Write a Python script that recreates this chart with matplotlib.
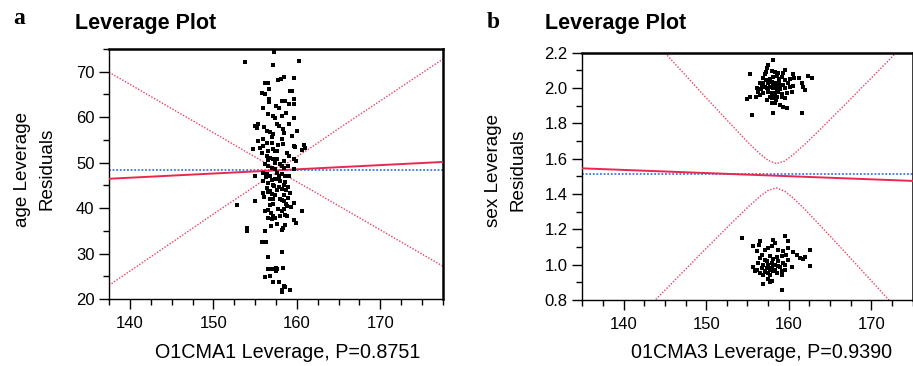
import numpy as np
import matplotlib
matplotlib.use("Agg")
import matplotlib.pyplot as plt
from matplotlib.ticker import MultipleLocator, FormatStrFormatter

plt.rcParams['font.family'] = ['Liberation Sans', 'DejaVu Sans']

# ---- panel a: age vs O1CMA1 ----
a_x = [157.3, 153.8, 157.2, 160.2, 158.4, 158.1, 157.7, 159.6, 156.2, 156.5,
       156.7, 155.8, 156.2, 159.2, 159.4, 156.7, 156.7, 158.2, 158.6, 159.6,
       159.7, 159.1, 157.5, 157.8, 156.6, 157.1, 157.4, 158.2, 159.6, 157.6,
       159.0, 155.0, 155.4, 155.2, 156.4, 156.8, 157.2, 157.0, 158.3, 158.4,
       159.4, 160.0, 156.0, 156.4, 158.2, 158.3, 159.6, 159.8, 160.8, 160.6,
       161.0, 154.8, 155.6, 156.0, 156.6, 157.2, 157.4, 157.6, 158.8, 159.0,
       155.8, 156.4, 156.8, 157.2, 157.6, 159.6, 159.9, 156.2, 156.6, 157.0,
       157.4, 158.0, 158.2, 158.4, 159.6, 155.0, 156.0, 156.4, 156.8, 157.6,
       157.8, 158.2, 158.6, 159.1, 156.0, 156.6, 157.2, 158.0, 158.4, 156.4,
       156.8, 157.6, 158.2, 158.7, 156.0, 156.6, 157.4, 158.4, 159.2, 155.0,
       156.8, 157.2, 158.0, 158.2, 158.4, 156.8, 157.2, 159.6, 152.8, 158.8,
       158.5, 158.2, 156.2, 156.6, 160.6, 157.2, 157.4, 158.0, 158.6, 158.8,
       156.6, 157.0, 159.6, 159.9, 158.6, 158.3, 158.2, 154.0, 154.0, 156.2,
       155.8, 156.3, 158.2, 156.5, 156.6, 156.9, 157.4, 157.6, 157.5, 157.5,
       158.3, 156.2, 156.8, 157.2, 157.8, 158.4, 158.6, 158.2, 158.2, 159.2,
       157.0, 157.4, 157.9, 158.6, 156.3, 157.3, 157.9, 158.9, 156.1, 157.0,
       158.9, 159.3, 157.7, 156.9, 158.7, 157.6, 156.9, 157.4, 158.5, 156.6,
       158.9, 157.0, 157.7, 155.3, 157.9, 156.1, 158.7, 156.0]
a_y = [74.3, 72.1, 71.5, 72.4, 68.9, 68.3, 68.2, 68.7, 67.5, 67.5,
       66.1, 65.4, 65.0, 65.8, 65.8, 64.0, 63.3, 63.5, 63.5, 63.9,
       63.0, 62.8, 62.4, 62.1, 60.6, 60.2, 59.9, 60.2, 59.9, 58.4,
       58.6, 58.0, 58.6, 57.6, 56.9, 56.7, 56.2, 55.7, 57.3, 56.5,
       55.8, 56.9, 55.1, 54.3, 55.1, 54.1, 53.6, 53.4, 53.8, 52.7,
       53.2, 52.9, 53.2, 53.6, 52.5, 52.9, 52.5, 52.5, 52.1, 51.5,
       52.1, 51.5, 51.0, 50.8, 50.8, 50.7, 50.4, 49.6, 49.2, 48.8,
       48.5, 49.6, 49.2, 48.8, 48.5, 47.1, 47.7, 47.4, 47.0, 47.7,
       47.0, 47.4, 47.0, 47.1, 45.9, 45.5, 45.1, 45.9, 45.1, 44.4,
       43.7, 44.0, 44.2, 43.9, 43.3, 43.5, 42.9, 42.9, 43.3, 41.5,
       42.0, 41.9, 42.0, 41.8, 41.6, 40.7, 41.0, 41.1, 40.7, 40.4,
       39.8, 39.3, 39.3, 39.5, 39.3, 38.2, 37.8, 38.3, 38.5, 38.2,
       37.8, 37.6, 37.4, 36.8, 36.3, 35.6, 35.2, 35.6, 35.0, 35.0,
       32.6, 32.6, 30.4, 29.3, 26.5, 26.5, 26.5, 26.5, 26.8, 26.2,
       26.8, 24.8, 25.1, 23.8, 23.8, 22.9, 22.6, 22.0, 21.6, 22.0,
       46.2, 46.5, 46.3, 45.8, 46.9, 44.8, 44.6, 44.7, 42.5, 43.0,
       42.3, 40.2, 39.9, 39.0, 41.0, 36.6, 36.0, 50.0, 50.3, 50.5,
       49.3, 54.4, 53.9, 54.8, 58.0, 57.9, 61.0, 62.0]

a_fit_x = [137.5, 177.5]
a_fit_y = [46.45, 50.15]
a_mean = 48.3
a_band_x = [137.5, 145.0, 150.0, 154.0, 156.0, 157.0, 157.7, 158.5, 160.0,
            162.0, 165.0, 170.0, 177.5]
a_band_hi = [69.9, 61.9, 56.6, 52.3, 50.2, 49.2, 48.9, 49.5, 51.3,
             53.7, 57.5, 63.6, 72.8]
a_band_lo = [23.0, 32.4, 38.7, 43.6, 46.1, 47.3, 47.7, 47.3, 45.8,
             43.7, 40.5, 35.2, 27.2]

# ---- panel b: sex vs 01CMA3 ----
b_x = [158.05, 157.52, 157.32, 157.24, 157.12, 155.30, 159.54, 160.55, 160.63, 161.28,
       162.37, 162.77, 157.93, 158.33, 158.73, 159.34, 156.84, 157.24, 157.72, 158.13,
       158.53, 159.14, 159.54, 160.15, 156.51, 156.92, 157.52, 157.93, 158.33, 158.85,
       159.34, 159.94, 156.11, 156.71, 157.32, 157.72, 158.13, 158.53, 158.93, 159.54,
       160.15, 160.55, 161.56, 161.76, 161.96, 156.31, 156.92, 157.52, 157.93, 158.33,
       158.73, 159.14, 159.74, 160.35, 156.03, 156.51, 157.72, 158.13, 158.61, 159.14,
       159.54, 154.90, 155.30, 157.93, 158.33, 158.93, 159.34, 159.74, 155.50, 158.13,
       161.56, 158.13, 158.53, 157.52, 158.93, 157.12, 157.93, 158.45, 157.32, 158.85,
       156.59,
       154.29, 156.51, 156.39, 158.12, 158.32, 157.92, 159.54, 159.86, 155.70, 157.11,
       157.52, 158.73, 159.33, 159.94, 159.62, 160.54, 160.95, 161.35, 161.76, 161.96,
       162.56, 156.10, 156.71, 156.51, 157.11, 157.72, 158.12, 158.53, 159.13, 156.31,
       156.91, 157.32, 157.92, 158.32, 158.73, 159.33, 159.94, 155.70, 156.10, 156.71,
       157.11, 157.52, 157.92, 158.32, 158.93, 159.54, 160.34, 157.11, 157.52, 157.72,
       158.12, 158.53, 159.13, 162.56, 157.52, 157.92, 156.91, 157.72, 159.13, 155.90,
       156.51, 157.32, 157.72, 157.44, 158.12, 156.91, 158.73, 159.54, 159.13]
b_y = [2.158, 2.130, 2.111, 2.092, 2.079, 2.077, 2.102, 2.077, 2.055, 2.055,
       2.068, 2.055, 2.098, 2.092, 2.087, 2.083, 2.055, 2.045, 2.049, 2.064,
       2.068, 2.060, 2.045, 2.049, 2.026, 2.030, 2.026, 2.036, 2.026, 2.030,
       2.017, 2.026, 1.998, 2.004, 1.998, 2.007, 1.998, 2.004, 1.992, 1.998,
       2.004, 2.011, 2.026, 2.007, 1.989, 1.979, 1.973, 1.979, 1.970, 1.973,
       1.979, 1.966, 1.973, 1.979, 1.951, 1.960, 1.951, 1.955, 1.947, 1.951,
       1.941, 1.936, 1.951, 1.913, 1.917, 1.904, 1.894, 1.885, 1.847, 1.856,
       1.856, 2.017, 1.989, 1.992, 2.011, 2.007, 1.941, 1.932, 1.932, 2.049,
       1.992,
       1.151, 1.136, 1.113, 1.141, 1.123, 1.104, 1.160, 1.136, 1.104, 1.085,
       1.094, 1.085, 1.075, 1.094, 1.057, 1.072, 1.057, 1.038, 1.034, 1.041,
       1.085, 1.075, 1.057, 1.038, 1.028, 1.047, 1.034, 1.041, 1.047, 1.009,
       1.000, 1.019, 1.009, 1.000, 1.019, 1.009, 1.028, 0.985, 0.972, 0.981,
       0.966, 0.990, 0.981, 0.972, 0.985, 0.972, 0.985, 0.958, 0.953, 0.943,
       0.962, 0.953, 0.966, 0.990, 0.921, 0.909, 0.890, 0.902, 0.858, 0.962,
       0.953, 0.981, 0.972, 1.000, 0.996, 0.943, 0.990, 1.000, 0.943]

b_fit_x = [135.0, 175.0]
b_fit_y = [1.545, 1.474]
b_mean = 1.511
b_band_x = [135.0, 140.0, 145.0, 150.0, 153.0, 155.0, 156.5, 157.5, 158.5,
            159.5, 160.5, 162.0, 164.0, 167.0, 172.0, 175.0]
b_band_hi = [2.710, 2.454, 2.199, 1.944, 1.794, 1.695, 1.628, 1.590, 1.572,
             1.586, 1.621, 1.683, 1.774, 1.914, 2.151, 2.296]
b_band_lo = [0.380, 0.618, 0.855, 1.092, 1.232, 1.323, 1.386, 1.420, 1.434,
             1.416, 1.379, 1.311, 1.212, 1.062, 0.807, 0.652]

fit_color = '#e8284e'
band_color = '#ee3f60'
mean_color = '#3f74f0'

fig = plt.figure(figsize=(9.13, 3.66), dpi=100)
ax_a = fig.add_axes([0.1194, 0.1831, 0.3658, 0.683])
ax_b = fig.add_axes([0.6378, 0.1803, 0.3617, 0.676])


def style(ax, xlim, ylim, ymaj, ymin, yfmt):
    ax.set_xlim(*xlim)
    ax.set_ylim(*ylim)
    ax.xaxis.set_major_locator(MultipleLocator(10))
    ax.xaxis.set_minor_locator(MultipleLocator(2.5))
    ax.yaxis.set_major_locator(MultipleLocator(ymaj))
    ax.yaxis.set_minor_locator(MultipleLocator(ymin))
    ax.yaxis.set_major_formatter(FormatStrFormatter(yfmt))
    ax.tick_params(which='major', direction='out', length=7.5, width=1.0,
                   labelsize=12, pad=3)
    ax.tick_params(which='minor', direction='out', length=4, width=1.0)
    ax.tick_params(axis='x', which='major', pad=5)
    for s in ['top', 'right']:
        ax.spines[s].set_linewidth(1.8)
    for s in ['left', 'bottom']:
        ax.spines[s].set_linewidth(1.0)


for ax, px, py, fx, fy, m, bx, bhi, blo in [
        (ax_a, a_x, a_y, a_fit_x, a_fit_y, a_mean, a_band_x, a_band_hi, a_band_lo),
        (ax_b, b_x, b_y, b_fit_x, b_fit_y, b_mean, b_band_x, b_band_hi, b_band_lo)]:
    ax.plot(bx, bhi, linestyle=(0, (1, 1.2)), color=band_color, lw=1.0, zorder=1)
    ax.plot(bx, blo, linestyle=(0, (1, 1.2)), color=band_color, lw=1.0, zorder=1)
    ax.axhline(m, linestyle=(0, (1, 1)), color=mean_color, lw=1.3, zorder=2)
    ax.plot(fx, fy, color=fit_color, lw=1.4, zorder=3)
    ax.plot(px, py, linestyle='none', marker='s', ms=2.6, color='black',
            markeredgewidth=0, zorder=4)

style(ax_a, (137.5, 177.5), (20, 75), 10, 5, '%d')
style(ax_b, (135, 175), (0.8, 2.2), 0.2, 0.1, '%.1f')

# titles and panel letters
fig.text(13 / 913, 1 - 18 / 366, 'a', family=['Liberation Serif', 'DejaVu Serif'],
         fontsize=17, fontweight='bold', va='center', ha='left')
fig.text(75 / 913, 1 - 23 / 366, 'Leverage Plot', fontsize=15.5,
         fontweight='bold', va='center', ha='left')
fig.text(487 / 913, 1 - 22 / 366, 'b', family=['Liberation Serif', 'DejaVu Serif'],
         fontsize=17, fontweight='bold', va='center', ha='left')
fig.text(545 / 913, 1 - 24 / 366, 'Leverage Plot', fontsize=15.5,
         fontweight='bold', va='center', ha='left')

# axis labels
fig.text(35 / 913, 1 - 169 / 366, 'age Leverage\nResiduals', rotation=90,
         fontsize=13.6, ha='center', va='center', linespacing=1.55)
fig.text(506 / 913, 1 - 170 / 366, 'sex Leverage\nResiduals', rotation=90,
         fontsize=13.6, ha='center', va='center', linespacing=1.55)
fig.text(288 / 913, 1 - 352 / 366, 'O1CMA1 Leverage, P=0.8751',
         fontsize=14.2, ha='center', va='center')
fig.text(762 / 913, 1 - 352 / 366, '01CMA3 Leverage, P=0.9390',
         fontsize=14.2, ha='center', va='center')

fig.savefig('out.png', dpi=100)
